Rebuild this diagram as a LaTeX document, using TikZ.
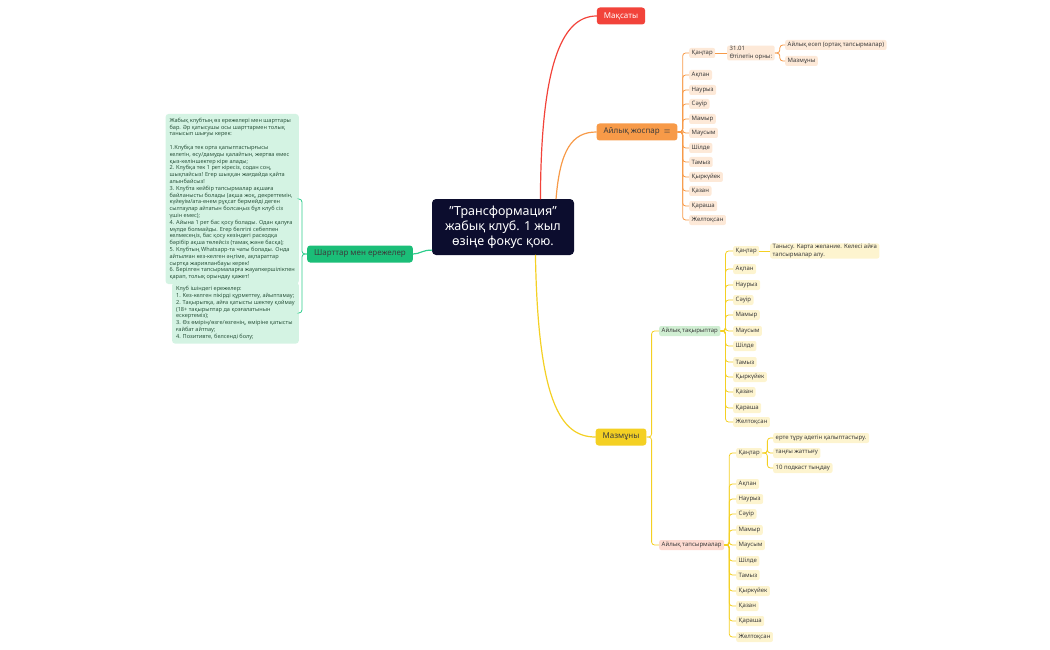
\documentclass[tikz,border=0pt]{standalone}
\usepackage{fontspec}
\setmainfont{Noto Sans}
\usetikzlibrary{calc}
\definecolor{ink}{RGB}{60,60,60}
\definecolor{night}{RGB}{12,13,46}
\definecolor{redc}{RGB}{242,67,58}
\definecolor{orangec}{RGB}{247,154,72}
\definecolor{orangelight}{RGB}{253,233,216}
\definecolor{yellowc}{RGB}{244,208,35}
\definecolor{yellowlight}{RGB}{253,244,207}
\definecolor{greenc}{RGB}{27,190,120}
\definecolor{greenline}{RGB}{46,205,140}
\definecolor{greenlight}{RGB}{212,243,227}
\definecolor{mintlight}{RGB}{208,238,210}
\definecolor{pinklight}{RGB}{253,218,208}
\definecolor{mintink}{RGB}{45,85,62}
\tikzset{
  every picture/.style={x=1pt, y=-1pt},
  hub/.style={fill=night, text=white, rounded corners=4pt, font=\fontsize{12.5}{15}\selectfont\bfseries, align=center, minimum width=142pt, minimum height=56pt},
  topic/.style={rounded corners=3pt, text=ink, font=\fontsize{8}{9.6}\selectfont, minimum height=17pt, inner xsep=7pt, inner ysep=0pt},
  leaf/.style={rounded corners=2pt, text=ink, font=\fontsize{6}{7.2}\selectfont, minimum height=10pt, inner xsep=2.5pt, inner ysep=1pt, align=left, anchor=west},
  note/.style={fill=greenlight, text=mintink, rounded corners=3pt, font=\fontsize{5.6}{6.8}\selectfont, align=left, inner sep=4pt, anchor=east},
  main/.style={line width=1.2pt, line cap=round},
  twig/.style={line width=0.8pt, rounded corners=3pt},
}

\begin{document}
\begin{tikzpicture}
  \useasboundingbox (0,0) rectangle (1050,650);
  \node[hub] (hub) at (503,227) {"Трансформация"\\жабық клуб. 1 жыл\\өзіңе фокус қою.};

  \node[topic, fill=redc, text=white] (aim) at (621,16) {Мақсаты};
  \node[topic, fill=orangec] (plan) at (637,132) {Айлық жоспар~~$\equiv$};
  \node[topic, fill=yellowc] (content) at (621,437) {Мазмұны};
  \node[topic, fill=greenc] (rules) at (360,254) {Шарттар мен ережелер};

  \draw[main, redc] (hub.37) .. controls (541,70) and (560,16) .. (aim.west);
  \draw[main, orangec] (hub.28) .. controls (560,150) and (572,132) .. (plan.west);
  \draw[main, yellowc] (hub.-41) .. controls (538,400) and (560,437) .. (content.west);
  \draw[main, greenline] (hub.198) .. controls (422,250) and (420,254) .. (rules.east);

  % conditions
  \node[note] (rb1) at (299,199) {Жабық клубтың өз ережелері мен шарттары\\бар. Әр қатысушы осы шарттармен толық\\танысып шығуы керек:\\[6.8pt]1.Клубқа тек орта қалыптастырғысы\\келетін, өсу/дамуды қалайтын, жертва емес\\қыз-келіншектер кіре алады;\\2. Клубқа тек 1 рет кіресіз, содан соң,\\шықпайсыз! Егер шыққан жағдайда қайта\\алынбайсыз!\\3. Клубта кейбір тапсырмалар ақшаға\\байланысты болады (ақша жоқ, декреттемін,\\күйеуім/ата-енем рұқсат бермейді деген\\сылтаулар айтатын болсаңыз бұл клуб сіз\\үшін емес);\\4. Айына 1 рет бас қосу болады. Одан қалуға\\мүлде болмайды. Егер белгілі себеппен\\келмесеңіз, бас қосу кезіндегі расходқа\\бәрібір ақша төлейсіз (тамақ және басқа);\\5. Клубтың Whatsapp-та чаты болады. Онда\\айтылған кез-келген әңгіме, ақпараттар\\сыртқа жарияланбауы керек!\\6. Берілген тапсырмаларға жауапкершілікпен\\қарап, толық орындау қажет!};
  \node[note] (rb2) at (299,313) {Клуб ішіндегі ережелер:\\1. Кез-келген пікірді құрметтеу, айыптамау;\\2. Тақырыпқа, айға қатысты шектеу қоймау\\(18+ тақырыптар да қозғалатынын\\ескертеміз);\\3. Өз өмірің/өзге/өзгенің, өміріне қатысты\\ғайбат айтпау;\\4. Позитивте, белсенді болу;};
  \draw[twig, greenline] (rules.west) -- ++(-5,0) |- (rb1.east);
  \draw[twig, greenline] (rules.west) -- ++(-5,0) |- (rb2.east);

  % monthly plan
  \node[leaf, fill=orangelight] (o1) at (689,53) {Қаңтар};
  \node[leaf, fill=orangelight] (oq) at (727,53) {31.01\\Өтілетін орны:};
  \node[leaf, fill=orangelight] (oq1) at (785,45) {Айлық есеп (ортақ тапсырмалар)};
  \node[leaf, fill=orangelight] (oq2) at (785,61) {Мазмұны};
  \node[leaf, fill=orangelight] (o2) at (689,75) {Ақпан};
  \node[leaf, fill=orangelight] (o3) at (689,90) {Наурыз};
  \node[leaf, fill=orangelight] (o4) at (689,104) {Сәуір};
  \node[leaf, fill=orangelight] (o5) at (689,119) {Мамыр};
  \node[leaf, fill=orangelight] (o6) at (689,133) {Маусым};
  \node[leaf, fill=orangelight] (o7) at (689,148) {Шілде};
  \node[leaf, fill=orangelight] (o8) at (689,162) {Тамыз};
  \node[leaf, fill=orangelight] (o9) at (689,177) {Қыркүйек};
  \node[leaf, fill=orangelight] (o10) at (689,191) {Қазан};
  \node[leaf, fill=orangelight] (o11) at (689,206) {Қараша};
  \node[leaf, fill=orangelight] (o12) at (689,220) {Желтоқсан};
  \draw[twig, orangec] (plan.east) -- ++(5,0) |- (o1.west); \draw[twig, orangec] (plan.east) -- ++(5,0) |- (o2.west);
  \draw[twig, orangec] (plan.east) -- ++(5,0) |- (o3.west); \draw[twig, orangec] (plan.east) -- ++(5,0) |- (o4.west);
  \draw[twig, orangec] (plan.east) -- ++(5,0) |- (o5.west); \draw[twig, orangec] (plan.east) -- ++(5,0) |- (o6.west);
  \draw[twig, orangec] (plan.east) -- ++(5,0) |- (o7.west); \draw[twig, orangec] (plan.east) -- ++(5,0) |- (o8.west);
  \draw[twig, orangec] (plan.east) -- ++(5,0) |- (o9.west); \draw[twig, orangec] (plan.east) -- ++(5,0) |- (o10.west);
  \draw[twig, orangec] (plan.east) -- ++(5,0) |- (o11.west); \draw[twig, orangec] (plan.east) -- ++(5,0) |- (o12.west);
  \draw[twig, orangec] (o1.east) -- (oq.west);
  \draw[twig, orangec] (oq.east) -- ++(5,0) |- (oq1.west); \draw[twig, orangec] (oq.east) -- ++(5,0) |- (oq2.west);

  % content
  \node[leaf, fill=mintlight] (topics) at (659,331) {Айлық тақырыптар};
  \node[leaf, fill=pinklight] (tasks) at (659,545) {Айлық тапсырмалар};
  \draw[twig, yellowc] (content.east) -- ++(5,0) |- (topics.west);
  \draw[twig, yellowc] (content.east) -- ++(5,0) |- (tasks.west);

  \node[leaf, fill=yellowlight] (t1) at (733,251) {Қаңтар};
  \node[leaf, fill=yellowlight] (tq) at (770,251) {Танысу. Карта желание. Келесі айға\\тапсырмалар алу.};
  \node[leaf, fill=yellowlight] (t2) at (733,269) {Ақпан};
  \node[leaf, fill=yellowlight] (t3) at (733,285) {Наурыз};
  \node[leaf, fill=yellowlight] (t4) at (733,300) {Сәуір};
  \node[leaf, fill=yellowlight] (t5) at (733,315) {Мамыр};
  \node[leaf, fill=yellowlight] (t6) at (733,331) {Маусым};
  \node[leaf, fill=yellowlight] (t7) at (733,346) {Шілде};
  \node[leaf, fill=yellowlight] (t8) at (733,362) {Тамыз};
  \node[leaf, fill=yellowlight] (t9) at (733,377) {Қыркүйек};
  \node[leaf, fill=yellowlight] (t10) at (733,392) {Қазан};
  \node[leaf, fill=yellowlight] (t11) at (733,408) {Қараша};
  \node[leaf, fill=yellowlight] (t12) at (733,422) {Желтоқсан};
  \draw[twig, yellowc] (topics.east) -- ++(5,0) |- (t1.west); \draw[twig, yellowc] (topics.east) -- ++(5,0) |- (t2.west);
  \draw[twig, yellowc] (topics.east) -- ++(5,0) |- (t3.west); \draw[twig, yellowc] (topics.east) -- ++(5,0) |- (t4.west);
  \draw[twig, yellowc] (topics.east) -- ++(5,0) |- (t5.west); \draw[twig, yellowc] (topics.east) -- ++(5,0) |- (t6.west);
  \draw[twig, yellowc] (topics.east) -- ++(5,0) |- (t7.west); \draw[twig, yellowc] (topics.east) -- ++(5,0) |- (t8.west);
  \draw[twig, yellowc] (topics.east) -- ++(5,0) |- (t9.west); \draw[twig, yellowc] (topics.east) -- ++(5,0) |- (t10.west);
  \draw[twig, yellowc] (topics.east) -- ++(5,0) |- (t11.west); \draw[twig, yellowc] (topics.east) -- ++(5,0) |- (t12.west);
  \draw[twig, yellowc] (t1.east) -- (tq.west);

  \node[leaf, fill=yellowlight] (a1) at (736,453) {Қаңтар};
  \node[leaf, fill=yellowlight] (aq1) at (773,438) {ерте тұру әдетін қалыптастыру.};
  \node[leaf, fill=yellowlight] (aq2) at (773,453) {таңғы жаттығу};
  \node[leaf, fill=yellowlight] (aq3) at (773,468) {10 подкаст тыңдау};
  \node[leaf, fill=yellowlight] (a2) at (736,484) {Ақпан};
  \node[leaf, fill=yellowlight] (a3) at (736,499) {Наурыз};
  \node[leaf, fill=yellowlight] (a4) at (736,514) {Сәуір};
  \node[leaf, fill=yellowlight] (a5) at (736,530) {Мамыр};
  \node[leaf, fill=yellowlight] (a6) at (736,545) {Маусым};
  \node[leaf, fill=yellowlight] (a7) at (736,561) {Шілде};
  \node[leaf, fill=yellowlight] (a8) at (736,575) {Тамыз};
  \node[leaf, fill=yellowlight] (a9) at (736,591) {Қыркүйек};
  \node[leaf, fill=yellowlight] (a10) at (736,606) {Қазан};
  \node[leaf, fill=yellowlight] (a11) at (736,621) {Қараша};
  \node[leaf, fill=yellowlight] (a12) at (736,637) {Желтоқсан};
  \draw[twig, yellowc] (tasks.east) -- ++(5,0) |- (a1.west); \draw[twig, yellowc] (tasks.east) -- ++(5,0) |- (a2.west);
  \draw[twig, yellowc] (tasks.east) -- ++(5,0) |- (a3.west); \draw[twig, yellowc] (tasks.east) -- ++(5,0) |- (a4.west);
  \draw[twig, yellowc] (tasks.east) -- ++(5,0) |- (a5.west); \draw[twig, yellowc] (tasks.east) -- ++(5,0) |- (a6.west);
  \draw[twig, yellowc] (tasks.east) -- ++(5,0) |- (a7.west); \draw[twig, yellowc] (tasks.east) -- ++(5,0) |- (a8.west);
  \draw[twig, yellowc] (tasks.east) -- ++(5,0) |- (a9.west); \draw[twig, yellowc] (tasks.east) -- ++(5,0) |- (a10.west);
  \draw[twig, yellowc] (tasks.east) -- ++(5,0) |- (a11.west); \draw[twig, yellowc] (tasks.east) -- ++(5,0) |- (a12.west);
  \draw[twig, yellowc] (a1.east) -- ++(5,0) |- (aq1.west); \draw[twig, yellowc] (a1.east) -- ++(5,0) |- (aq2.west);
  \draw[twig, yellowc] (a1.east) -- ++(5,0) |- (aq3.west);
\end{tikzpicture}
\end{document}
